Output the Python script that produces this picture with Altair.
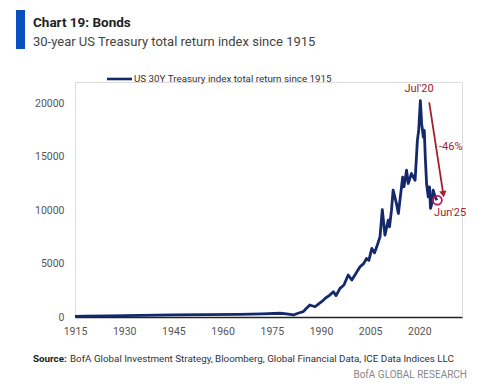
import altair as alt
import pandas as pd

FONT = "Roboto, sans-serif"

years = [1915.0, 1918, 1925, 1935, 1945, 1955, 1965, 1972, 1977.5, 1979.5, 1981.6, 1983,
         1984.6, 1985.5, 1986.6, 1988.2, 1989, 1990.2, 1991.5, 1992.5, 1993.8, 1994.6, 1995.8,
         1997, 1998.3, 1999.4, 2000.5, 2001.9, 2003, 2003.9, 2004.6, 2005.5, 2006.3, 2007,
         2008, 2008.7, 2009.5, 2010.5, 2010.9, 2011.5, 2012, 2013, 2013.6, 2014.3, 2014.9,
         2015.3, 2016.1, 2016.6, 2017.6, 2018.7, 2019.4, 2019.8, 2020.3, 2020.7, 2021.2,
         2021.5, 2021.8, 2022.2, 2022.7, 2023.1, 2023.4, 2023.8, 2024.2, 2024.8, 2025.3]
values = [60, 80, 110, 150, 200, 220, 250, 300, 350, 300, 190, 350,
          500, 800, 1120, 960, 1150, 1430, 1800, 2000, 2360, 2000, 2680,
          3000, 3930, 3460, 4000, 4700, 5000, 5480, 5300, 6420, 6000, 6570,
          7500, 10060, 7660, 9070, 8440, 10000, 11870, 10630, 9690, 11500, 13100,
          12180, 13740, 12500, 13430, 12800, 16540, 17500, 20250, 18100, 16850,
          17480, 14980, 12500, 11240, 12180, 10160, 10630, 11870, 11240, 10930]

x_ticks = [1915, 1930, 1945, 1960, 1975, 1990, 2005, 2020]
y_ticks = [0, 5000, 10000, 15000, 20000]

series_name = "US 30Y Treasury index total return since 1915"
title_text = "Chart 19: Bonds"
subtitle_text = "30-year US Treasury total return index since 1915"
source_label = "Source:"
source_text = "BofA Global Investment Strategy, Bloomberg, Global Financial Data, ICE Data Indices LLC"
brand_text = "BofA GLOBAL RESEARCH"

ann_labels = ["Jul'20", "-46%", "Jun'25"]
ann_x = [2019.9, 2026.0, 2024.5]
ann_y = [21300, 15900, 9700]
ann_align = ["center", "left", "left"]

arrow_x = [2023.0]
arrow_y = [20100]
arrow_x2 = [2027.3]
arrow_y2 = [11500]

circle_x = [2025.5]
circle_y = [10930]

NAVY = "#13296b"
RED = "#a3202e"
MAG = "#b3195a"

df = pd.DataFrame({"year": years, "value": values})
one = pd.DataFrame({"k": [0]})

xscale = alt.Scale(domain=[1915, 2033], nice=False, zero=False)
yscale = alt.Scale(domain=[0, 22000], nice=False)

line = alt.Chart(df).mark_line(color=NAVY, strokeWidth=2.8, strokeJoin="round").encode(
    x=alt.X("year:Q", scale=xscale,
            axis=alt.Axis(values=x_ticks, format="d", title=None, grid=False, ticks=False,
                          domain=True, domainColor="#222", domainWidth=1.5, labelFlush=False,
                          labelColor="#555", labelFont=FONT, labelFontSize=10.5, labelPadding=9)),
    y=alt.Y("value:Q", scale=yscale,
            axis=alt.Axis(values=y_ticks, format="d", title=None, grid=False, ticks=False,
                          domain=False,
                          labelColor="#555", labelFont=FONT, labelFontSize=10.5, labelPadding=11)),
)

ann_df = pd.DataFrame({"x": ann_x, "y": ann_y, "t": ann_labels, "a": ann_align})
ann_c = alt.Chart(ann_df[ann_df.a == "center"]).mark_text(
    color=RED, font=FONT, fontSize=11, align="center", baseline="middle").encode(
    x=alt.X("x:Q", scale=xscale), y=alt.Y("y:Q", scale=yscale), text="t:N")
ann_l = alt.Chart(ann_df[ann_df.a == "left"]).mark_text(
    color=RED, font=FONT, fontSize=11, align="left", baseline="middle").encode(
    x=alt.X("x:Q", scale=xscale), y=alt.Y("y:Q", scale=yscale), text="t:N")

arr_df = pd.DataFrame({"x": arrow_x, "y": arrow_y, "x2": arrow_x2, "y2": arrow_y2})
arrow = alt.Chart(arr_df).mark_rule(color=RED, strokeWidth=1.8).encode(
    x=alt.X("x:Q", scale=xscale), y=alt.Y("y:Q", scale=yscale), x2="x2:Q", y2="y2:Q")
head = alt.Chart(arr_df).mark_point(shape="triangle-down", filled=True, color=RED, size=55,
                                    opacity=1, angle=351).encode(
    x=alt.X("x2:Q", scale=xscale), y=alt.Y("y2:Q", scale=yscale))

circ = alt.Chart(pd.DataFrame({"x": circle_x, "y": circle_y})).mark_point(
    shape="circle", filled=False, color=MAG, size=80, strokeWidth=1.8, opacity=1).encode(
    x=alt.X("x:Q", scale=xscale), y=alt.Y("y:Q", scale=yscale))

# decorations (page-level header/legend/footer)
bar = alt.Chart(one).mark_rect(color="#0a4fc0").encode(
    x=alt.value(-59), x2=alt.value(-50), y=alt.value(-72), y2=alt.value(-33))
t1 = alt.Chart(one).mark_text(font=FONT, fontSize=13.5, fontWeight="bold", color="#222",
                              align="left", baseline="alphabetic").encode(
    x=alt.value(-42), y=alt.value(-55), text=alt.value(title_text))
t2 = alt.Chart(one).mark_text(font=FONT, fontSize=13, color="#444",
                              align="left", baseline="alphabetic").encode(
    x=alt.value(-42), y=alt.value(-36.5), text=alt.value(subtitle_text))
leg_line = alt.Chart(one).mark_rule(color=NAVY, strokeWidth=2.6).encode(
    x=alt.value(32), x2=alt.value(57), y=alt.value(-3))
leg_text = alt.Chart(one).mark_text(font=FONT, fontSize=9.8, color="#333",
                                    align="left", baseline="middle").encode(
    x=alt.value(59), y=alt.value(-3), text=alt.value(series_name))
s1 = alt.Chart(one).mark_text(font=FONT, fontSize=9.8, fontWeight="bold", color="#222",
                              align="left", baseline="alphabetic").encode(
    x=alt.value(-42), y=alt.value(280), text=alt.value(source_label))
s2 = alt.Chart(one).mark_text(font=FONT, fontSize=9.8, color="#333",
                              align="left", baseline="alphabetic").encode(
    x=alt.value(-5), y=alt.value(280), text=alt.value(source_text))
s3 = alt.Chart(one).mark_text(font=FONT, fontSize=10, color="#888",
                              align="right", baseline="alphabetic").encode(
    x=alt.value(392), y=alt.value(296), text=alt.value(brand_text))

chart = alt.layer(line, arrow, head, circ, ann_c, ann_l, bar, t1, t2, leg_line, leg_text,
                  s1, s2, s3).properties(
    width=387, height=235,
    autosize=alt.AutoSizeParams(type="none"),
    padding={"left": 67, "top": 74, "right": 15, "bottom": 67},
).configure_view(stroke=None).configure(background="white")

chart.save("out.html", embed_options={"renderer": "svg", "actions": False})
